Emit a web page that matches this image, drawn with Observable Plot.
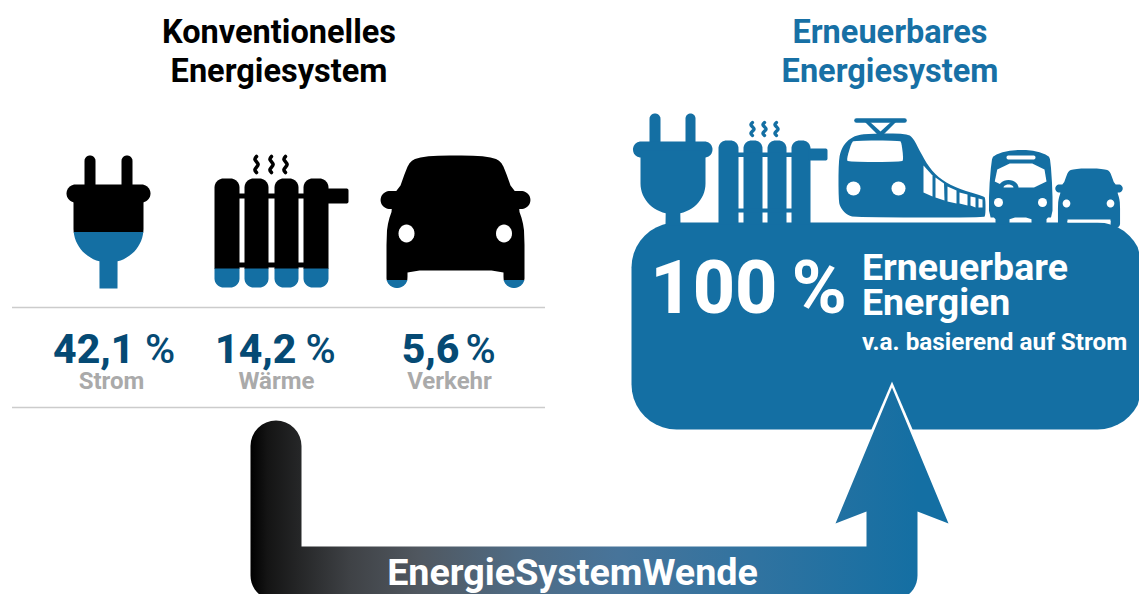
<!DOCTYPE html>
<html lang="de">
<head>
<meta charset="utf-8">
<script src="https://cdn.jsdelivr.net/npm/d3@7"></script>
<script src="https://cdn.jsdelivr.net/npm/@observablehq/plot@0.6"></script>
<style>
html,body{margin:0;padding:0;background:#fff;overflow:hidden}
svg{display:block}
</style>
</head>
<body>
<div id="chart"></div>
<script>
// ---- data ----
const sectors = ["Strom", "Wärme", "Verkehr"];
const shares = [42.1, 14.2, 5.6];
const shareLabels = ["42,1", "14,2", "5,6"];
const renewableShare = "100";
const titleLeft = ["Konventionelles", "Energiesystem"];
const titleRight = ["Erneuerbares", "Energiesystem"];
const targetLines = ["Erneuerbare", "Energien", "v.a. basierend auf Strom"];
const arrowLabel = "EnergieSystemWende";

const BLACK = "#000000", BLUE = "#146fa3", DARK = "#054a74", GREY = "#aaaaaa", RULE = "#cccccc";

// ---- geometry helpers for the pictograms ----
const arc = (cx, cy, rx, ry, a0, a1, n = 10) =>
  d3.range(n + 1).map(i => {
    const a = (a0 + (a1 - a0) * i / n) * Math.PI / 180;
    return [cx + rx * Math.cos(a), cy + ry * Math.sin(a)];
  });
const rrect = (x1, y1, x2, y2, r, rb = r) => [
  ...arc(x1 + r, y1 + r, r, r, 180, 270),
  ...arc(x2 - r, y1 + r, r, r, 270, 360),
  ...arc(x2 - rb, y2 - rb, rb, rb, 0, 90),
  ...arc(x1 + rb, y2 - rb, rb, rb, 90, 180)
];
const ellipse = (cx, cy, rx, ry) => arc(cx, cy, rx, ry, 0, 360, 28);
const chaikin = (pts, it = 2) => {
  let p = pts;
  for (let k = 0; k < it; k++) {
    const q = [];
    p.forEach((a, i) => {
      const b = p[(i + 1) % p.length];
      q.push([a[0] * .75 + b[0] * .25, a[1] * .75 + b[1] * .25], [a[0] * .25 + b[0] * .75, a[1] * .25 + b[1] * .75]);
    });
    p = q;
  }
  return p;
};
const clipY = (poly, level, above) => {
  const inside = p => above ? p[1] <= level : p[1] >= level, out = [];
  poly.forEach((a, i) => {
    const b = poly[(i + 1) % poly.length];
    if (inside(a)) out.push(a);
    if (inside(a) !== inside(b)) {
      const t = (level - a[1]) / (b[1] - a[1]);
      out.push([a[0] + (b[0] - a[0]) * t, level]);
    }
  });
  return out;
};
const shape = (pts, fill, extra = {}) =>
  Plot.line(pts, {x: d => d[0], y: d => d[1], fill, stroke: "none", ...extra});
const twoTone = (polys, level) => polys.flatMap(p => {
  const up = clipY(p, level + .3, true), low = clipY(p, level, false);
  return [up.length ? shape(up, BLACK) : null, low.length ? shape(low, BLUE) : null].filter(Boolean);
});
const xf = (poly, ox, oy, s, cx = 0, cy = 0) => poly.map(([x, y]) => [ox + (x - cx) * s, oy + (y - cy) * s]);

function plugPolys(px) {
  return [
    rrect(px + 18, 155, px + 29, 200, 5.5, 0),
    rrect(px + 55, 155, px + 66, 200, 5.5, 0),
    rrect(px, 184, px + 84, 202, 9),
    [[px + 7, 195], [px + 77, 195], ...arc(px + 42, 228, 35, 34, 0, 75, 14),
      [px + 51, 288], [px + 33, 288], ...arc(px + 42, 228, 35, 34, 105, 180, 14)]
  ];
}
function radiatorPolys(cols, top, bottom, rT, rB, rails, pipe) {
  const out = cols.map(([a, b]) => rrect(a, top, b, bottom, rT, rB));
  rails.forEach(([y1, y2]) => out.push([[cols[0][1] - 1, y1], [cols[3][0] + 1, y1], [cols[3][0] + 1, y2], [cols[0][1] - 1, y2]]));
  out.push(rrect(pipe[0], pipe[1], pipe[2], pipe[3], 2));
  return out;
}
// half outline of car, in the coordinates of the large icon
const carRight = [
  [455, 155], [478, 155.3], [494, 157.5], [500, 161], [504, 168], [512, 190.5],
  ...arc(521, 199.5, 9, 9, -90, 90, 10), [518, 208.5], [522, 220], [524, 233], [524, 278],
  ...arc(513.5, 278, 10.5, 9.5, 0, 180, 10), [503, 270], [455, 270]
];
const carOutline = chaikin([...carRight, ...carRight.slice(1, -1).reverse().map(([x, y]) => [910 - x, y])], 1);
const carLights = [[406, 233], [503.5, 233]];

// ---- marks ----
const marks = [];
marks.push(() => {
  const defs = d3.create("svg:defs");
  const g = defs.append("linearGradient").attr("id", "wende").attr("gradientUnits", "userSpaceOnUse")
    .attr("x1", 250).attr("x2", 917).attr("y1", 0).attr("y2", 0);
  [[0, "#000000"], [.025, "#141414"], [.07, "#242526"], [.15, "#3f4246"], [.25, "#50575f"], [.4, "#4f6b84"],
   [.55, "#47749a"], [.75, "#3173a0"], [1, "#146fa3"]]
    .forEach(([o, c]) => g.append("stop").attr("offset", o).attr("stop-color", c));
  return defs.node();
});

// text helper: baseline given, Plot positions by line middle
const label = (str, x, base, size, weight, fill, anchor = "middle", extra = {}) =>
  Plot.text([str], {x: () => x, y: () => base - .32 * size, text: d => d, fontSize: size, fontWeight: weight,
    fontFamily: "Roboto", fill, textAnchor: anchor, lineAnchor: "middle", ...extra});

// titles
[[titleLeft, 278.5, BLACK], [titleRight, 889.5, "#1770a5"]].forEach(([t, x, c]) => {
  marks.push(label(t[0], x, 42, 32.5, 700, c), label(t[1], x, 81.5, 32.5, 700, c));
});

// left icons, blue level = share of the icon's height
const level = (share, top, bottom) => bottom - (bottom - top) * share / 100;
marks.push(...twoTone(plugPolys(66), level(shares[0], 154, 288)));
const steam = (x, y0, h, c, w) => Plot.line(
  [[x, y0], [x - 1.6, y0 + h * .17], [x + 1.6, y0 + h * .5], [x - 1.6, y0 + h * .83], [x, y0 + h]],
  {x: d => d[0], y: d => d[1], curve: "catmull-rom", stroke: c, strokeWidth: w, strokeLinecap: "round"});
marks.push(...[256, 271, 285].map(x => steam(x, 156, 16, BLACK, 3.6)));
marks.push(...twoTone(
  radiatorPolys([[214, 239], [244, 268], [274, 298], [303, 328]], 178, 287, 9, 9, [[193, 198], [262, 267]], [326, 188, 348, 203]),
  level(shares[1], 154, 287)));
marks.push(...twoTone([carOutline], level(shares[2], 155, 287)));
marks.push(...carLights.map(([x, y]) => shape(ellipse(x, y, 8, 9), "#fff")));

// rules
marks.push(Plot.ruleY([307, 407], {x1: 12, x2: 545, stroke: RULE, strokeWidth: 1.4}));

// percentages and labels
const pctX = [[134, 144.5], [296, 305], [459, 465]];
const labelX = [111, 276, 449];
sectors.forEach((s, i) => {
  marks.push(label(shareLabels[i], pctX[i][0], 362, 41, 800, DARK, "end"));
  marks.push(label("%", pctX[i][1], 362, 41, 500, DARK, "start"));
  marks.push(label(s, labelX[i], 388, 24, 700, GREY));
});

// right block
const baseBlock = [
  ...arc(676, 267, 45, 45, 180, 270),
  ...arc(1097, 267, 45, 45, 270, 360).map(([x, y]) => [Math.min(x, 1139), y]),
  ...arc(1097, 384, 45, 45, 0, 90).map(([x, y]) => [Math.min(x, 1139), y]),
  ...arc(676, 384, 45, 45, 90, 180)
];
marks.push(shape(baseBlock, BLUE));

const rPlug = [
  rrect(649, 113, 660, 150, 5.5, 0),
  rrect(685, 113, 695, 150, 5, 0),
  rrect(632.5, 141, 712, 157, 8),
  [[640, 150], [705, 150], ...arc(672.5, 183, 32.5, 30.5, 0, 77, 14), [680, 225], [665, 225], ...arc(672.5, 183, 32.5, 30.5, 103, 180, 14)]
];
rPlug.forEach(p => marks.push(shape(p, BLUE)));
radiatorPolys([[718, 738], [743, 762], [767, 786], [791, 810]], 140, 224, 8, 0, [[152, 156.5], [208, 212]], [808, 148, 827, 160])
  .forEach(p => marks.push(shape(p, BLUE)));
marks.push(...[752, 764, 776].map(x => steam(x, 122, 13, BLUE, 3.4)));

// train
const trainBody = chaikin([
  [868, 133], [907, 133], [913, 138], [920, 152], [930, 169], [943, 181], [963, 190], [983, 195.5], [985, 198], [985, 215], [983, 217],
  [855, 217], [846, 214], [840, 207], [838, 200], [838, 160], [841, 148], [847, 140], [855, 135]
], 2);
marks.push(shape(trainBody, BLUE));
marks.push(Plot.line([[856, 120], [904, 120]], {x: d => d[0], y: d => d[1], stroke: BLUE, strokeWidth: 4.6, strokeLinecap: "round"}));
marks.push(shape([[864, 121], [869, 121], [880, 131], [891, 121], [896, 121], [882, 135], [878, 135]], BLUE));
marks.push(shape(chaikin([[854, 140], [899, 140], [901, 142], [903, 159], [901, 161.5], [848, 161.5], [846, 159], [851, 142]], 2), "#fff"));
marks.push(Plot.dot([[853, 188], [898, 188]], {x: d => d[0], y: d => d[1], r: 7, fill: "#fff"}));
[
  [[923, 165], [932, 175], [932, 196], [923, 192]],
  [[935, 177], [943.5, 183], [944, 200], [935, 197]],
  [[947, 186], [956, 190], [956, 203], [947, 201]],
  [[959, 192], [967, 194], [967, 205], [959, 203]],
  [[970, 196], [975, 197], [975, 207], [970, 205]],
  [[978, 198], [982, 199], [982, 207], [978, 207]]
].forEach(w => marks.push(shape(w, "#fff")));

// bus
const busBody = chaikin([
  [1022, 149], [1036, 150.5], [1048, 155], [1050, 160], [1052, 190], [1052, 217], [1046, 217], [1046, 224], [1031, 224], [1031, 217],
  [1009, 217], [1009, 224], [995, 224], [995, 217], [988.5, 217], [988.5, 190], [991, 160], [993, 155], [1005, 150.5]
], 1);
marks.push(shape(busBody, BLUE));
marks.push(shape(rrect(1006, 155, 1035, 159, 2), "#fff"));
marks.push(shape(chaikin([[998, 163], [1043, 163], [1047, 187], [993, 187]], 1), "#fff"));
marks.push(shape(arc(1008, 187.5, 10, 8, 180, 360, 14), BLUE));
marks.push(shape(arc(1008, 187, 5, 3, 180, 360, 12), "#fff"));
marks.push(Plot.dot([[998, 202], [1042, 202]], {x: d => d[0], y: d => d[1], r: 4.5, fill: "#fff"}));

// small car
const sm = .45;
marks.push(shape(xf(carOutline, 1088.5, 168, sm, 455, 155), BLUE));
marks.push(shape(ellipse(1066, 203, 3.8, 4), "#fff"));
marks.push(shape(ellipse(1110, 203, 3.8, 4), "#fff"));
marks.push(shape([[1067, 219], [1110, 219], [1110, 222], [1067, 222]], "#fff"));

// right block text
marks.push(label(renewableShare, 777, 312, 73.5, 800, "#fff", "end"));
marks.push(label("%", 791, 312, 75, 700, "#fff", "start"));
marks.push(label(targetLines[0], 861.5, 279, 37.5, 700, "#fff", "start"));
marks.push(label(targetLines[1], 861.5, 314, 37.5, 700, "#fff", "start"));
marks.push(label(targetLines[2], 861.5, 349, 24.3, 700, "#fff", "start"));

// arrow
const arrowBottom = 594;
marks.push(shape([[891.5, 381], [954, 527], [829, 527]], "#fff"));
const arrow = [
  ...arc(275.5, 445.5, 25.5, 25.5, 180, 360, 16),
  [301, 546], [866, 546], [866, 511], [835, 523], [891.5, 387], [948, 523], [917, 511], [917, 575],
  ...arc(892, 575, 25, 25, 0, 50, 6).map(([x, y]) => [x, Math.min(y, arrowBottom)]),
  [900, arrowBottom], [264, arrowBottom],
  ...arc(275, 575, 25, 25, 130, 180, 6).map(([x, y]) => [x, Math.min(y, arrowBottom)])
];
marks.push(shape(arrow, "url(#wende)"));
marks.push(label(arrowLabel, 572, 584, 37.7, 700, "#fff"));

const chart = Plot.plot({
  width: 1139, height: 594, margin: 0,
  x: {domain: [0, 1139], range: [0, 1139], axis: null},
  y: {domain: [0, 594], range: [0, 594], axis: null},
  style: {background: "#fff", overflow: "hidden"},
  marks
});
document.getElementById("chart").appendChild(chart);
</script>
</body>
</html>
